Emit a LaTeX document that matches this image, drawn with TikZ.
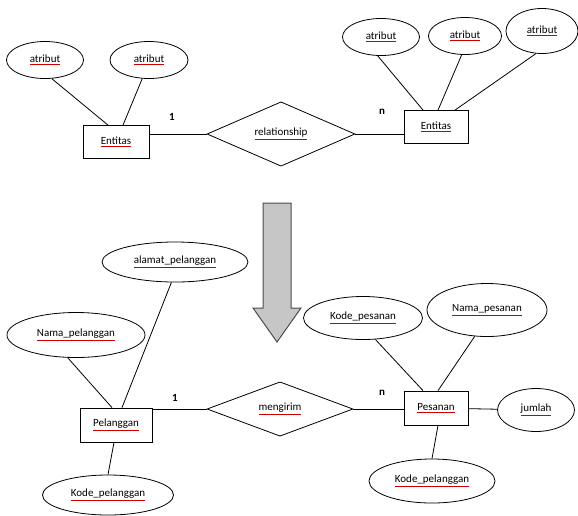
\documentclass[tikz,border=0pt]{standalone}
\usepackage{fontspec}
\setmainfont{Carlito}
\usetikzlibrary{shapes.geometric,calc}

% red line under the words, as a spell checker draws it
\newcommand{\squig}[1]{\textcolor{red!80!black}{\underline{\textcolor{black}{#1}}}}

\begin{document}
\begin{tikzpicture}[x=1pt,y=-1pt,line width=0.8pt,
    every node/.style={font=\fontsize{11}{13}\selectfont,inner sep=0},
    entity/.style={draw,rectangle,minimum width=66,minimum height=33},
    attr/.style={draw,ellipse,minimum width=77,minimum height=37},
    rel/.style={draw,diamond,minimum width=148,minimum height=50}]
        \useasboundingbox (0,0) rectangle (578,515);

        %% the general form
        \node[entity] (ent1) at (116,142) {\squig{Entitas}};
        \node[entity,minimum width=64] (ent2) at (436,127) {\squig{Entitas}};
        \node[rel] (relA) at (281,134) {\squig{relationship}};
        \node[attr] (at1) at (45,60) {\squig{atribut}};
        \node[attr,minimum width=78] (at2) at (149,60) {\squig{atribut}};
        \node[attr] (at3) at (381,37) {\squig{atribut}};
        \node[attr,minimum width=73] (at4) at (465,36) {\squig{atribut}};
        \node[attr,minimum width=72,minimum height=45] (at5) at (542,31) {\squig{atribut}};
        \node (oneA) at (172,117) {\textbf{1}};
        \node (nA) at (382,112) {\textbf{n}};

        \draw (relA.west) -- (relA.west -| ent1.east);
        \draw (relA.east) -- (relA.east -| ent2.west);
        \draw (at1.-70) -- ($(ent1.north)+(-8,0)$);
        \draw (at2.-110) -- ($(ent1.north)+(7,0)$);
        \draw (at3.-100) -- ($(ent2.north)+(-13,0)$);
        \draw (at4.-100) -- ($(ent2.north)+(2,0)$);
        \draw (at5.-105) -- ($(ent2.north)+(19,0)$);

        %% the arrow
        \draw[fill=gray!45,draw=gray!60!black,line width=1pt]
          (263,203) -- (291,203) -- (291,308) -- (301,308) -- (277,342)
          -- (253,308) -- (263,308) -- cycle;

        %% the example
        \node[entity,minimum width=72,minimum height=34] (plg) at (116,425) {\squig{Pelanggan}};
        \node[entity,minimum width=64,minimum height=34] (psn) at (436,408) {\squig{Pesanan}};
        \node[rel,minimum width=146] (kirim) at (280,409) {\squig{mengirim}};
        \node[attr,minimum width=146,minimum height=40] (alamat) at (175,262) {\squig{alamat\_pelanggan}};
        \node[attr,minimum width=138,minimum height=45] (nmplg) at (76,335) {\squig{Nama\_pelanggan}};
        \node[attr,minimum width=131,minimum height=40] (kdplg) at (108,495) {\squig{Kode\_pelanggan}};
        \node[attr,minimum width=119,minimum height=43] (kdpsn) at (363,318) {\squig{Kode\_pesanan}};
        \node[attr,minimum width=120,minimum height=53] (nmpsn) at (487,310) {\squig{Nama\_pesanan}};
        \node[attr,minimum width=77,minimum height=43] (jml) at (536,410) {\squig{jumlah}};
        \node[attr,minimum width=126,minimum height=44] (kdplg2) at (432,481) {\squig{Kode\_pelanggan}};
        \node (oneB) at (175,398) {\textbf{1}};
        \node (nB) at (382,393) {\textbf{n}};

        \draw (kirim.west) -- (kirim.west -| plg.east);
        \draw (kirim.east) -- (kirim.east -| psn.west);
        \draw (nmplg.-110) -- ($(plg.north)+(-4,0)$);
        \draw (alamat.-100) -- ($(plg.north)+(6,0)$);
        \draw ($(plg.south)+(-2,0)$) -- (kdplg.north);
        \draw (kdpsn.-60) -- ($(psn.north)+(-13,0)$);
        \draw (nmpsn.-115) -- ($(psn.north)+(2,0)$);
        \draw (psn) -- (jml);
        \draw ($(psn.south)+(2,0)$) -- (kdplg2.north);
      \end{tikzpicture}
\end{document}
